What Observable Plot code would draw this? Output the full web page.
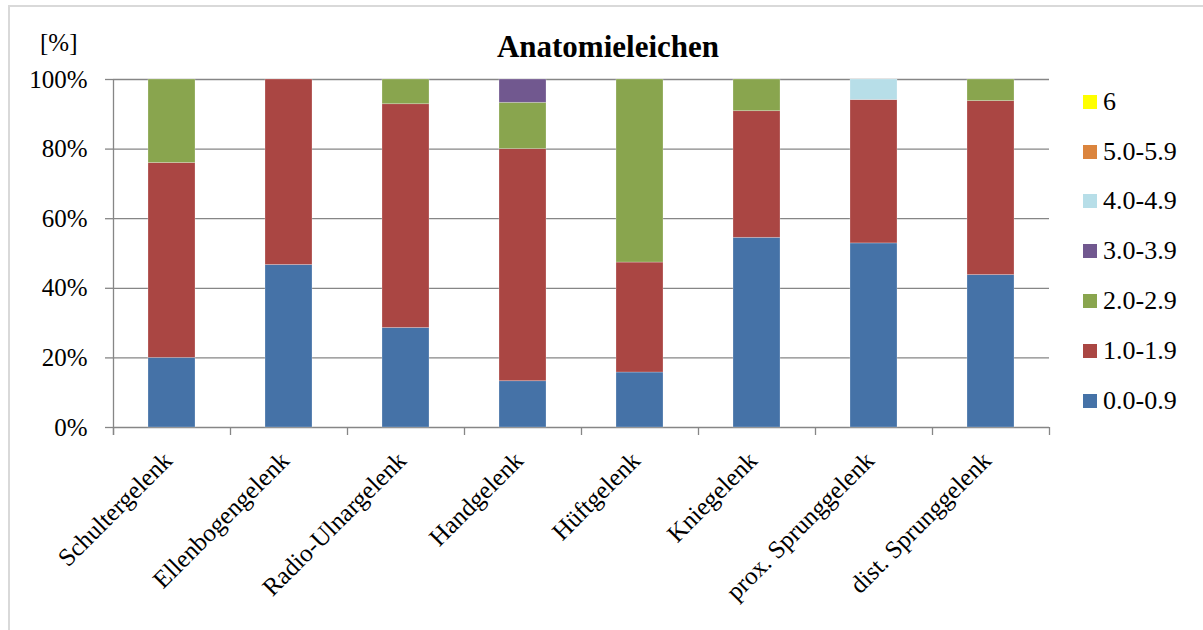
<!DOCTYPE html>
<html>
<head>
<meta charset="utf-8">
<script src="https://cdn.jsdelivr.net/npm/d3@7"></script>
<script src="https://cdn.jsdelivr.net/npm/@observablehq/plot@0.6"></script>
<style>
  html, body { margin: 0; padding: 0; background: #fff; }
  #wrap { position: relative; width: 1203px; height: 630px; overflow: hidden; font-family: "Liberation Serif", "Times New Roman", serif; color: #000; }
  #frame { position: absolute; left: 8px; top: 5px; width: 1300px; height: 700px; border-top: 2px solid #d9d9d9; border-left: 2px solid #d9d9d9; }
  #title { position: absolute; left: 0; width: 1216px; top: 29px; text-align: center; font-weight: bold; font-size: 31px; line-height: 36px; font-family: "Liberation Serif", serif; }
  #unit { position: absolute; left: 40px; top: 28px; font-size: 25px; line-height: 30px; font-family: "Liberation Serif", serif; }
  #legend { position: absolute; left: 1083px; top: 0; }
  .item { position: absolute; left: 0; white-space: nowrap; font-size: 26px; line-height: 30px; height: 30px; display: flex; align-items: center; font-family: "Liberation Serif", serif; }
  .sw { width: 14px; height: 14px; margin-right: 6px; flex: none; }
  #chart { position: absolute; left: 0; top: 0; }
</style>
</head>
<body>
<div id="wrap">
  <div id="frame"></div>
  <div id="chart"></div>
  <div id="unit">[%]</div>
  <div id="title">Anatomieleichen</div>
  <div id="legend"></div>
</div>
<script>
// ---- Data ----
const categories = ["Schultergelenk", "Ellenbogengelenk", "Radio-Ulnargelenk", "Handgelenk", "Hüftgelenk", "Kniegelenk", "prox. Sprunggelenk", "dist. Sprunggelenk"];
const seriesNames = ["0.0-0.9", "1.0-1.9", "2.0-2.9", "3.0-3.9", "4.0-4.9", "5.0-5.9", "6"];
const seriesColors = ["#4572A7", "#AA4643", "#89A54E", "#71588F", "#B7DEE8", "#DB843D", "#FFFF00"];
const s00 = [20.0, 46.7, 28.6, 13.3, 15.8, 54.5, 52.9, 43.8];
const s10 = [56.0, 53.3, 64.3, 66.7, 31.6, 36.4, 41.2, 50.0];
const s20 = [24.0, 0, 7.1, 13.3, 52.6, 9.1, 0, 6.2];
const s30 = [0, 0, 0, 6.7, 0, 0, 0, 0];
const s40 = [0, 0, 0, 0, 0, 0, 5.9, 0];
const s50 = [0, 0, 0, 0, 0, 0, 0, 0];
const s60 = [0, 0, 0, 0, 0, 0, 0, 0];
const yTicks = [0, 20, 40, 60, 80, 100];

const seriesValues = [s00, s10, s20, s30, s40, s50, s60];
const rows = [];
seriesNames.forEach((s, si) => {
  categories.forEach((c, ci) => rows.push({cat: c, series: s, value: seriesValues[si][ci]}));
});

// ---- Layout ----
const W = 1203, H = 630;
const mL = 113, mR = 154, mT = 79, mB = 203;
const half = (W - mL - mR) / categories.length / 2;
const gray = "#868686";
const font = "Liberation Serif, Times New Roman, serif";

const chart = Plot.plot({
  width: W,
  height: H,
  marginLeft: mL,
  marginRight: mR,
  marginTop: mT,
  marginBottom: mB,
  style: {fontFamily: font, fontSize: "25px", color: "#000", background: "transparent", overflow: "visible"},
  x: {domain: categories, paddingInner: 0.6, paddingOuter: 0.3, label: null},
  y: {domain: [0, 100], label: null},
  color: {domain: seriesNames, range: seriesColors},
  marks: [
    Plot.ruleY(yTicks, {y: d => d, stroke: gray, strokeWidth: 1.3}),
    Plot.barY(rows.filter(d => d.value > 0), {x: "cat", y: "value", fill: "series", order: seriesNames, stroke: "#ffffff", strokeOpacity: 0.3, strokeWidth: 0.8}),
    Plot.ruleX([categories[0]], {x: d => d, dx: -half, stroke: gray, strokeWidth: 1.3, insetBottom: -8}),
    Plot.ruleX(categories, {x: d => d, dx: -half, y1: 0, y2: 0, insetBottom: -8, stroke: gray, strokeWidth: 1.3}),
    Plot.ruleX([categories[categories.length - 1]], {x: d => d, dx: half, y1: 0, y2: 0, insetBottom: -8, stroke: gray, strokeWidth: 1.3}),
    Plot.axisY({ticks: yTicks, tickFormat: d => d + "%", tickSize: 8, tickPadding: 18, stroke: gray, strokeWidth: 1.3, fontSize: 25, label: null}),
    Plot.axisX({tickSize: 0, tickRotate: -45, tickPadding: 29, dx: -4, fontSize: 25, label: null})
  ]
});
document.getElementById("chart").appendChild(chart);

// ---- Legend ----
const legend = document.getElementById("legend");
const legendTop = 101.7, legendStep = 49.8;
seriesNames.slice().reverse().forEach((s, i) => {
  const item = document.createElement("div");
  item.className = "item";
  item.style.top = (legendTop + i * legendStep - 15) + "px";
  const sw = document.createElement("div");
  sw.className = "sw";
  sw.style.background = seriesColors[seriesNames.indexOf(s)];
  const t = document.createElement("span");
  t.textContent = s;
  item.appendChild(sw);
  item.appendChild(t);
  legend.appendChild(item);
});
</script>
</body>
</html>
